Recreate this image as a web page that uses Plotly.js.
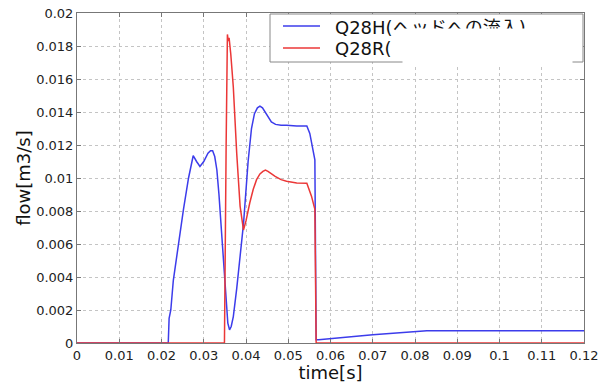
<!DOCTYPE html>
<html>
<head>
<meta charset="utf-8">
<script src="https://cdn.plot.ly/plotly-3.0.1.min.js"></script>
<style>html,body{margin:0;padding:0;background:#fff;}</style>
</head>
<body>
<div id="chart" style="width:606px;height:383px;"></div>
<script>
// Q28H (blue)
const blueT = [0, 0.0216, 0.0218, 0.0222, 0.0228, 0.0240, 0.0252, 0.0264, 0.0271, 0.0275, 0.0283, 0.0291, 0.0300, 0.0310, 0.0316, 0.0321, 0.0326, 0.0331, 0.0336, 0.0340, 0.0347, 0.0353, 0.0357, 0.0361, 0.0365, 0.0370, 0.0378, 0.0394, 0.0405, 0.0413, 0.0420, 0.0427, 0.0433, 0.0439, 0.0445, 0.0452, 0.0460, 0.0470, 0.0483, 0.0496, 0.0520, 0.0544, 0.0551, 0.0563, 0.0566, 0.0572, 0.0700, 0.0828, 0.0900, 0.1000, 0.1200];
const blueQ = [0, 0, 0.0015, 0.0020, 0.0038, 0.0060, 0.0081, 0.0100, 0.0110, 0.01135, 0.0110, 0.0107, 0.0110, 0.0115, 0.01165, 0.01165, 0.0113, 0.0105, 0.0090, 0.0075, 0.0045, 0.0022, 0.0012, 0.0008, 0.0010, 0.0016, 0.0033, 0.0072, 0.0110, 0.0130, 0.0139, 0.01425, 0.01435, 0.01425, 0.0140, 0.01368, 0.0134, 0.01325, 0.0132, 0.0132, 0.01315, 0.01315, 0.0127, 0.0111, 0.0002, 0.0002, 0.0005, 0.00075, 0.00075, 0.00075, 0.00075];
// Q28R (red)
const redT = [0, 0.0349, 0.0353, 0.0356, 0.0358, 0.0360, 0.0364, 0.0370, 0.0378, 0.0386, 0.0394, 0.0400, 0.0409, 0.0417, 0.0425, 0.0433, 0.0440, 0.0446, 0.0452, 0.0460, 0.0469, 0.0483, 0.0496, 0.0520, 0.0544, 0.0555, 0.0563, 0.0566, 0.1200];
const redQ = [0, 0, 0.0120, 0.0187, 0.0183, 0.0185, 0.0175, 0.0155, 0.0115, 0.0083, 0.00685, 0.0074, 0.0085, 0.0093, 0.0099, 0.01025, 0.0104, 0.01048, 0.0104, 0.01025, 0.0101, 0.0099, 0.0098, 0.0097, 0.00968, 0.0089, 0.0081, 0, 0];

const seriesNames = ['Q28H(ヘッドへの流入)', 'Q28R('];
const xTitle = 'time[s]';
const yTitle = 'flow[m3/s]';

const blueC = 'rgb(60,60,235)';
const redC = 'rgb(235,55,55)';

// pixel helpers for plot area (l=77, r=584, t=13, b=343)
const L = 77, R = 584, T = 13, B = 343;
const px = v => (v - L) / (R - L);
const py = v => (B - v) / (B - T);

const FONT = 'DejaVu Sans, Noto Sans CJK JP, sans-serif';

const traces = [
  {x: blueT, y: blueQ, type: 'scatter', mode: 'lines', name: seriesNames[0], line: {color: blueC, width: 1.5}, showlegend: false},
  {x: redT, y: redQ, type: 'scatter', mode: 'lines', name: seriesNames[1], line: {color: redC, width: 1.5}, showlegend: false}
];

const axisCommon = {
  showline: true, mirror: 'ticks', linecolor: '#777', linewidth: 1,
  ticks: 'inside', ticklen: 4, tickcolor: '#777',
  showgrid: true, gridcolor: '#c4c4c4', griddash: 'dot', gridwidth: 1,
  zeroline: false,
  tickfont: {family: FONT, size: 13, color: '#222'}
};

const layout = {
  width: 606, height: 383,
  margin: {l: L, r: 606 - R, t: T, b: 383 - B},
  paper_bgcolor: '#fff', plot_bgcolor: '#fff',
  showlegend: false,
  xaxis: Object.assign({}, axisCommon, {
    range: [0, 0.12], dtick: 0.01, tick0: 0,
    title: {text: xTitle, font: {family: FONT, size: 18, color: '#111'}, standoff: 4}
  }),
  yaxis: Object.assign({}, axisCommon, {
    range: [0, 0.02], dtick: 0.002, tick0: 0,
    title: {text: yTitle, font: {family: FONT, size: 18, color: '#111'}, standoff: 0}
  }),
  shapes: [
    {type: 'rect', xref: 'paper', yref: 'paper', x0: px(270), x1: px(583), y0: py(62), y1: py(14),
     fillcolor: '#fff', line: {color: '#888', width: 1}, layer: 'above'},
    {type: 'line', xref: 'paper', yref: 'paper', x0: px(283), x1: px(320), y0: py(26), y1: py(26),
     line: {color: blueC, width: 1.5}, layer: 'above'},
    {type: 'line', xref: 'paper', yref: 'paper', x0: px(283), x1: px(320), y0: py(48), y1: py(48),
     line: {color: redC, width: 1.5}, layer: 'above'}
  ],
  annotations: [
    {xref: 'paper', yref: 'paper', x: px(333), y: py(28), xanchor: 'left', yanchor: 'middle',
     text: seriesNames[0], showarrow: false, font: {family: FONT, size: 18, color: '#111'}},
    {xref: 'paper', yref: 'paper', x: px(333), y: py(48), xanchor: 'left', yanchor: 'middle',
     text: seriesNames[1], showarrow: false, font: {family: FONT, size: 18, color: '#111'}},
    {xref: 'paper', yref: 'paper', x: px(402), y: py(28), xanchor: 'left', yanchor: 'top',
     text: ' ', showarrow: false, width: 169, height: 36, borderpad: 0, bgcolor: '#fff',
     font: {size: 4}}
  ]
};

Plotly.newPlot('chart', traces, layout, {displayModeBar: false, staticPlot: true});
</script>
</body>
</html>
